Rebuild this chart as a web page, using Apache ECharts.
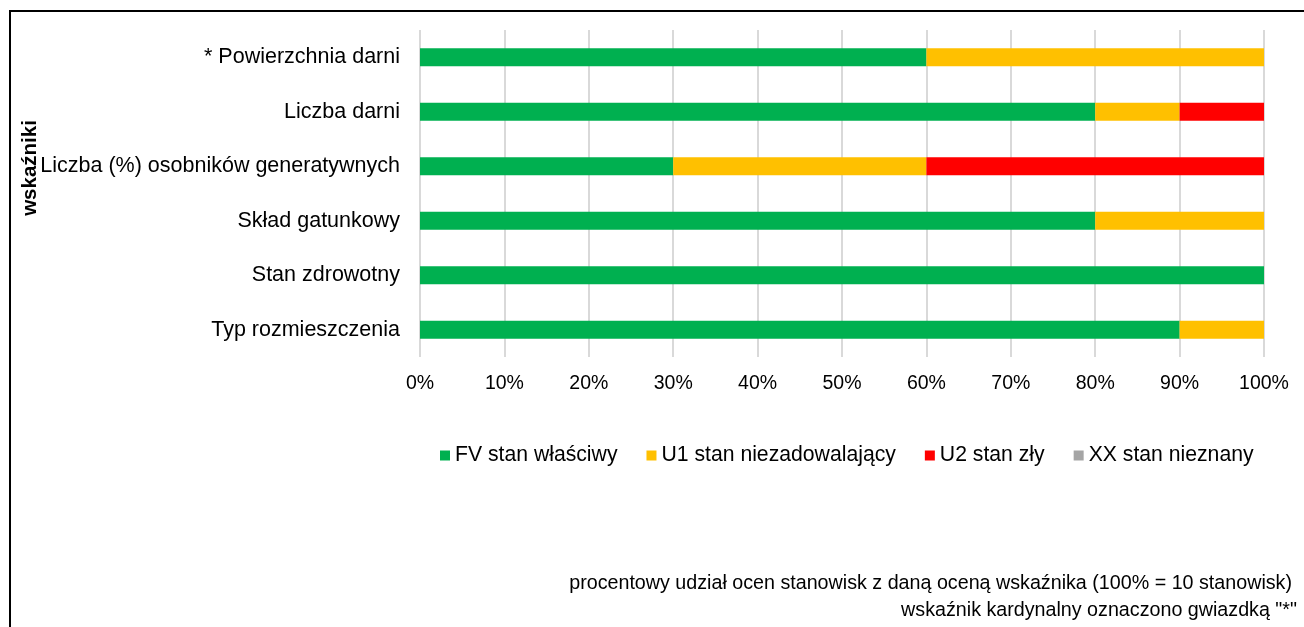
<!DOCTYPE html>
<html>
<head>
<meta charset="utf-8">
<style>
  html, body { margin: 0; padding: 0; background: #fff; }
  #chart { width: 1304px; height: 627px; }
</style>
<script src="https://cdn.jsdelivr.net/npm/echarts@6/dist/echarts.min.js"></script>
</head>
<body>
<div id="chart"></div>
<script>
// Indicators, listed top to bottom
const categories = [
  '* Powierzchnia darni',
  'Liczba darni',
  'Liczba (%) osobników generatywnych',
  'Skład gatunkowy',
  'Stan zdrowotny',
  'Typ rozmieszczenia'
];
// Share of sites (%) per assessment
const fvValues = [60, 80, 30, 80, 100, 90];
const u1Values = [40, 10, 30, 20, 0, 10];
const u2Values = [0, 10, 40, 0, 0, 0];
const xxValues = [0, 0, 0, 0, 0, 0];
const seriesNames = ['FV stan właściwy', 'U1 stan niezadowalający', 'U2 stan zły', 'XX stan nieznany'];
const tickLabels = ['0%', '10%', '20%', '30%', '40%', '50%', '60%', '70%', '80%', '90%', '100%'];
const axisTitle = 'wskaźniki';
const footNotes = [
  'procentowy udział ocen stanowisk z daną oceną wskaźnika (100% = 10 stanowisk)',
  'wskaźnik kardynalny oznaczono gwiazdką "*"'
];

const colors = ['#00B050', '#FFC000', '#FF0000', '#A5A5A5'];
const font = '"Liberation Sans", Arial, sans-serif';
const values = [fvValues, u1Values, u2Values, xxValues];

const chart = echarts.init(document.getElementById('chart'), null, { renderer: 'canvas' });

chart.setOption({
  animation: false,
  textStyle: { fontFamily: font, color: '#000' },
  grid: { left: 420, right: 40, top: 30, height: 327, containLabel: false },
  legend: {
    left: 435,
    top: 440,
    itemWidth: 10,
    itemHeight: 10,
    itemGap: 29,
    icon: 'rect',
    textStyle: { fontFamily: font, fontSize: 21.2, color: '#000' },
    data: seriesNames
  },
  xAxis: {
    type: 'value',
    min: 0,
    max: 100,
    interval: 10,
    axisLine: { show: false },
    axisTick: { show: false },
    splitLine: { show: true, lineStyle: { color: '#D9D9D9', width: 2 } },
    axisLabel: {
      fontFamily: font,
      fontSize: 19.5,
      color: '#000',
      margin: 17,
      formatter: (v) => tickLabels[Math.round(v / 10)]
    }
  },
  yAxis: {
    type: 'category',
    inverse: true,
    data: categories,
    axisLine: { show: false },
    axisTick: { show: false },
    axisLabel: { fontFamily: font, fontSize: 21.5, color: '#000', margin: 20 }
  },
  series: seriesNames.map((name, i) => ({
    name,
    type: 'bar',
    stack: 'total',
    barWidth: 18,
    itemStyle: { color: colors[i] },
    data: values[i]
  })),
  graphic: [
    {
      type: 'polyline',
      shape: { points: [[10, 627], [10, 11], [1304, 11]] },
      style: { stroke: '#000', lineWidth: 2, fill: null }
    },
    {
      type: 'text',
      x: 30,
      y: 168,
      rotation: Math.PI / 2,
      style: {
        text: axisTitle,
        font: 'bold 20.5px ' + font,
        fill: '#000',
        textAlign: 'center',
        textVerticalAlign: 'middle'
      }
    },
    {
      type: 'text',
      right: 12,
      top: 574,
      style: { text: footNotes[0], font: '19.7px ' + font, fill: '#000', textAlign: 'right' }
    },
    {
      type: 'text',
      right: 7,
      top: 601,
      style: { text: footNotes[1], font: '19.7px ' + font, fill: '#000', textAlign: 'right' }
    }
  ]
});
</script>
</body>
</html>
